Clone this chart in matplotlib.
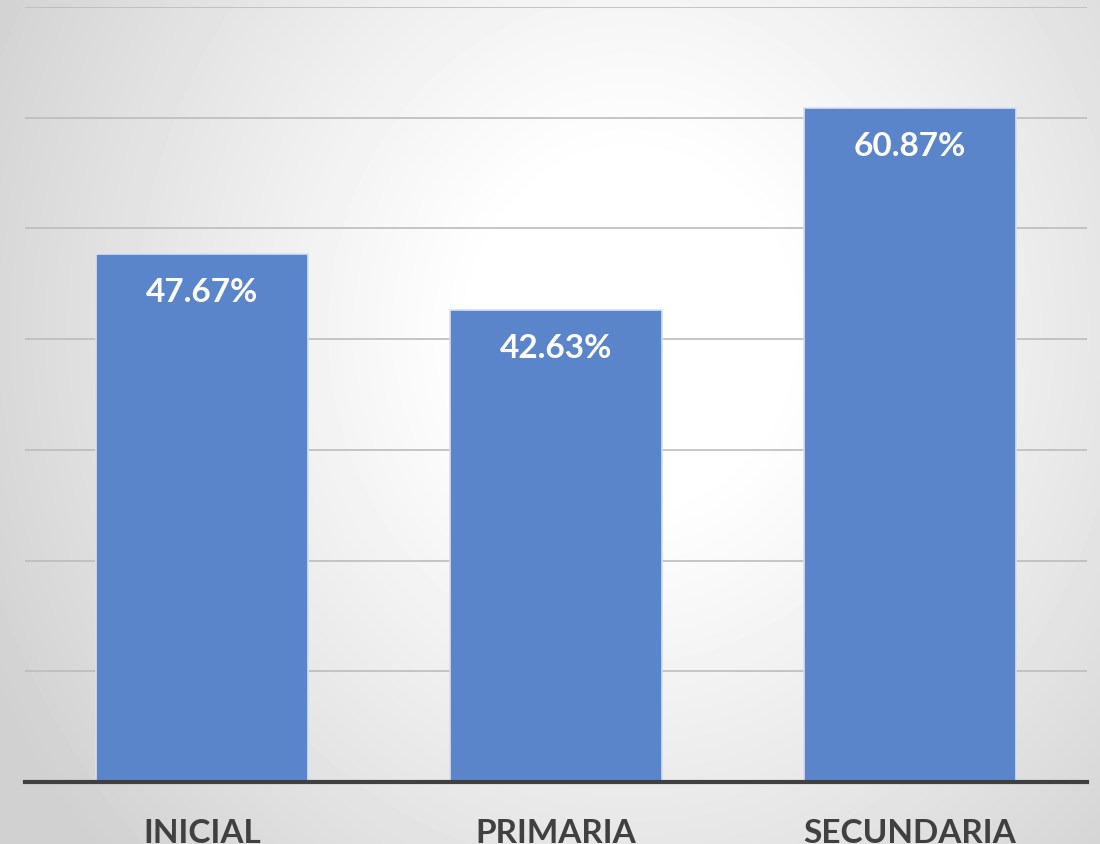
import numpy as np
import matplotlib.pyplot as plt

categories = ["INICIAL", "PRIMARIA", "SECUNDARIA"]
values = [47.67, 42.63, 60.87]
value_labels = ["47.67%", "42.63%", "60.87%"]

plt.rcParams['font.family'] = ['Lato', 'DejaVu Sans']

fig = plt.figure(figsize=(11, 8.45), dpi=100)

# radial gradient background
bg = fig.add_axes([0, 0, 1, 1], zorder=0)
w, h = 1100, 845
yy, xx = np.mgrid[0:h, 0:w]
d = np.sqrt(((xx - 630) / 1.0) ** 2 + ((yy - 330) / 1.1) ** 2)
shade = 1.0 - 0.18 * np.clip((d - 150) / 560, 0, 1) ** 1.1
bg.imshow(shade, cmap="gray", vmin=0, vmax=1, extent=[0, 1, 0, 1], aspect="auto", interpolation="bilinear")
bg.axis("off")

ax = fig.add_axes([25 / 1100, 1 - 783 / 845, (1087 - 25) / 1100, (783 - 8) / 845], zorder=1)
ax.patch.set_alpha(0)

x = np.arange(len(categories))
bars = ax.bar(x, values, width=0.6, color="#5B85CB", edgecolor="#D6E0F2", linewidth=1.2, zorder=3)

for bar, lab in zip(bars, value_labels):
    ax.annotate(lab, (bar.get_x() + bar.get_width() / 2, bar.get_height()),
                xytext=(0, -27), textcoords="offset points", ha="center", va="center",
                color="white", fontsize=24, fontweight="bold", zorder=4)

ax.set_xlim(-0.5, 2.5)
ax.set_ylim(0, 70)
ax.set_yticks(np.arange(10, 71, 10))
ax.yaxis.grid(True, color="#BCBCBC", linewidth=1.2, zorder=1)
ax.tick_params(axis="y", left=False, labelleft=False)
ax.set_xticks(x)
ax.set_xticklabels(categories, fontsize=24, fontweight="bold", color="#404040")
ax.tick_params(axis="x", length=0, pad=26)
for s in ["top", "right", "left"]:
    ax.spines[s].set_visible(False)
ax.spines["bottom"].set_color("#404040")
ax.spines["bottom"].set_linewidth(3)
ax.spines["bottom"].set_zorder(5)

fig.savefig("out.png", dpi=100)
